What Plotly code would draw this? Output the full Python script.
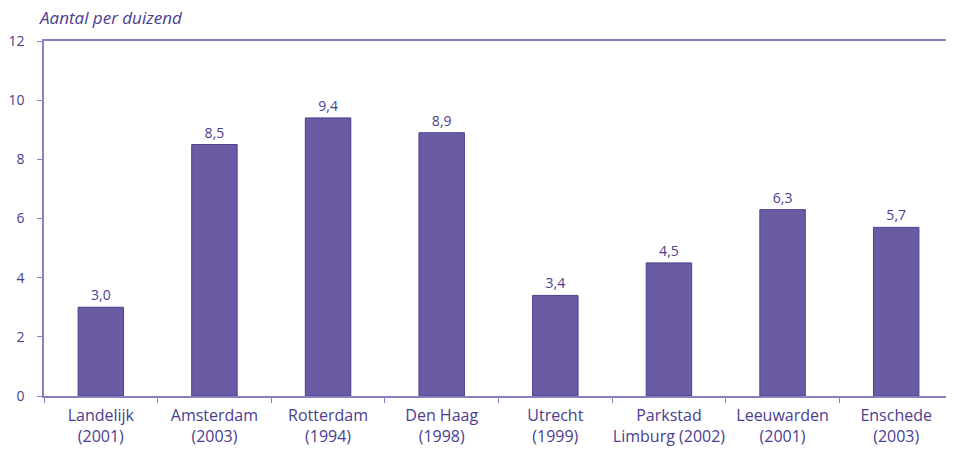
import plotly.graph_objects as go

categories = ["Landelijk<br>(2001)", "Amsterdam<br>(2003)", "Rotterdam<br>(1994)", "Den Haag<br>(1998)",
              "Utrecht<br>(1999)", "Parkstad<br>Limburg (2002)", "Leeuwarden<br>(2001)", "Enschede<br>(2003)"]
values = [3.0, 8.5, 9.4, 8.9, 3.4, 4.5, 6.3, 5.7]
labels = [f"{v:.1f}".replace(".", ",") for v in values]
y_ticks = [0, 2, 4, 6, 8, 10, 12]

text_color = "#4b3d8f"
axis_color = "#8a80c0"
font_family = "Open Sans"

fig = go.Figure(go.Bar(
    x=categories, y=values, text=labels, textposition="outside",
    textfont=dict(size=14, color=text_color, family=font_family),
    marker=dict(color="#6b5ba5", line=dict(color="#4e3f8c", width=1)),
    width=0.4, cliponaxis=False,
))

# page body has an 8px default margin, so the figure is sized/offset to compensate
fig.update_layout(
    width=946, height=442,
    margin=dict(l=36, r=1, t=33, b=54, autoexpand=False),
    plot_bgcolor="white", paper_bgcolor="white",
    showlegend=False,
    font=dict(family=font_family, color=text_color),
    annotations=[dict(text="<i>Aantal per duizend</i>", xref="paper", yref="paper",
                      x=0, y=1, xanchor="left", yanchor="middle", xshift=-7, yshift=24,
                      showarrow=False, font=dict(size=17, color=text_color, family=font_family))],
)

fig.update_xaxes(
    showline=True, linecolor=axis_color, linewidth=1.5, mirror=True,
    ticks="outside", tickson="boundaries", ticklen=5, tickcolor=axis_color,
    ticklabelstandoff=4, tickangle=0,
    tickfont=dict(size=16, color=text_color), showgrid=False,
)
fig.update_yaxes(
    range=[0, 12], tickvals=y_ticks, showline=True, linecolor=axis_color, linewidth=1.5, mirror=True,
    ticks="outside", ticklen=5, tickcolor=axis_color, ticklabelstandoff=10,
    tickfont=dict(size=14, color=text_color), showgrid=False, zeroline=False,
)

fig.write_html("out.html")
